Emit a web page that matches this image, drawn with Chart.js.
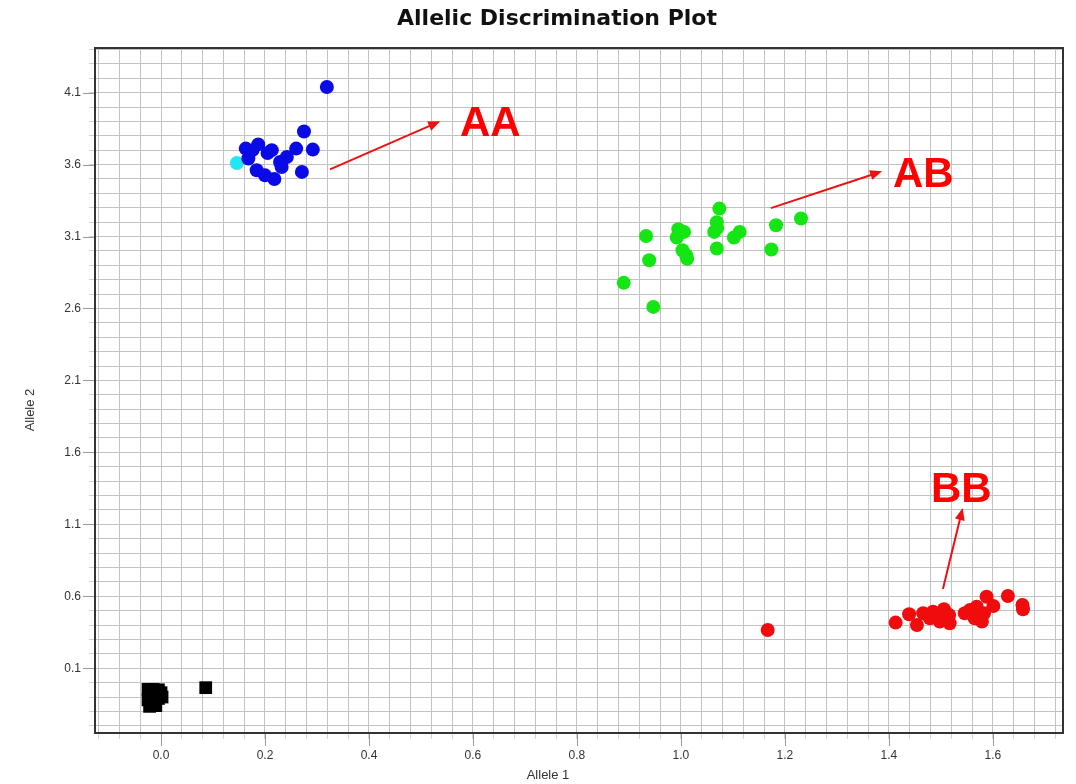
<!DOCTYPE html>
<html>
<head>
<meta charset="utf-8">
<title>Allelic Discrimination Plot</title>
<script src="https://cdn.jsdelivr.net/npm/chart.js@4.4.0/dist/chart.umd.min.js"></script>
<style>
  html, body { margin: 0; padding: 0; background: #fff; }
</style>
</head>
<body>
<canvas id="allelic-plot" width="1076" height="784"></canvas>
<script>
// Allele 1 / Allele 2 signal per well, grouped by genotype call
var aaAllele1 = [0.319, 0.275, 0.292, 0.260, 0.271, 0.163, 0.187, 0.168, 0.213, 0.229, 0.242, 0.232, 0.184, 0.200, 0.218, 0.176, 0.205];
var aaAllele2 = [4.139, 3.830, 3.704, 3.711, 3.549, 3.711, 3.740, 3.642, 3.700, 3.618, 3.653, 3.583, 3.560, 3.525, 3.500, 3.700, 3.680];

var undeterminedAllele1 = [0.146];
var undeterminedAllele2 = [3.611];

var abAllele1 = [0.890, 0.947, 0.939, 0.933, 0.997, 1.006, 0.992, 1.003, 1.012, 1.074, 1.069, 1.064, 1.069, 1.102, 1.113, 1.183, 1.174, 1.231, 0.995, 1.010, 1.070];
var abAllele2 = [2.778, 2.611, 2.935, 3.104, 3.139, 3.132, 3.093, 3.005, 2.945, 3.294, 3.200, 3.132, 3.017, 3.093, 3.132, 3.178, 3.010, 3.225, 3.150, 2.970, 3.160];

var bbAllele1 = [1.413, 1.439, 1.454, 1.466, 1.485, 1.479, 1.498, 1.506, 1.516, 1.517, 1.495, 1.546, 1.556, 1.569, 1.579, 1.565, 1.588, 1.601, 1.629, 1.657, 1.658, 1.583, 1.167];
var bbAllele2 = [0.417, 0.475, 0.401, 0.482, 0.493, 0.447, 0.424, 0.510, 0.470, 0.413, 0.470, 0.482, 0.505, 0.528, 0.424, 0.447, 0.597, 0.533, 0.602, 0.540, 0.510, 0.482, 0.366];

var ntcAllele1 = [-0.025, -0.015, -0.005, 0.000, -0.010, -0.020, -0.025, -0.015, -0.005, 0.002, -0.022, -0.010, 0.086];
var ntcAllele2 = [-0.047, -0.047, -0.050, -0.070, -0.080, -0.090, -0.120, -0.130, -0.110, -0.100, -0.165, -0.160, -0.035];

// grid lines (every step) and which of them carry a label
var xTicks = [];
for (var i = 0; i <= 46; i++) xTicks.push(Math.round((-0.12 + i * 0.04) * 100) / 100);
var yTicks = [];
for (var j = 0; j <= 47; j++) yTicks.push(Math.round((-0.3 + j * 0.1) * 10) / 10);

// genotype callouts
var calloutLabels = ['AA', 'AB', 'BB'];
var calloutTailX = [0.325, 1.173, 1.504];
var calloutTailY = [3.567, 3.297, 0.651];
var calloutHeadX = [0.537, 1.387, 1.542];
var calloutHeadY = [3.901, 3.553, 1.213];
var calloutTextX = [0.575, 1.408, 1.481];
var calloutTextY = [3.877, 3.523, 1.335];

function toPoints(xs, ys) {
    return xs.map(function (x, k) { return { x: x, y: ys[k] }; });
}

function isXLabel(v) { return Math.round(v * 100) % 20 === 0; }
function isYLabel(v) { return (Math.round(v * 10) - 1) % 5 === 0; }

function drawArrow(ctx, x1, y1, x2, y2) {
    var ang = Math.atan2(y2 - y1, x2 - x1);
    var head = 12, half = 5;
    var c = Math.cos(ang), s = Math.sin(ang);
    ctx.beginPath();
    ctx.moveTo(x1, y1);
    ctx.lineTo(x2 - head * 0.7 * c, y2 - head * 0.7 * s);
    ctx.stroke();
    ctx.beginPath();
    ctx.moveTo(x2, y2);
    ctx.lineTo(x2 - head * c + half * s, y2 - head * s - half * c);
    ctx.lineTo(x2 - head * c - half * s, y2 - head * s + half * c);
    ctx.closePath();
    ctx.fill();
}

var plotDecor = {
    id: 'plotDecor',
    afterDraw: function (chart) {
        var ctx = chart.ctx;
        var area = chart.chartArea;
        var xs = chart.scales.x, ys = chart.scales.y;
        ctx.save();

        // longer tick marks under the labelled values
        ctx.strokeStyle = '#9a9a9a';
        ctx.lineWidth = 1;
        xTicks.filter(isXLabel).forEach(function (v) {
            var px = Math.round(xs.getPixelForValue(v)) + 0.5;
            ctx.beginPath();
            ctx.moveTo(px, area.bottom);
            ctx.lineTo(px, area.bottom + 13);
            ctx.stroke();
        });
        yTicks.filter(isYLabel).forEach(function (v) {
            var py = Math.round(ys.getPixelForValue(v)) + 0.5;
            ctx.beginPath();
            ctx.moveTo(area.left - 12, py);
            ctx.lineTo(area.left, py);
            ctx.stroke();
        });

        // plot frame
        ctx.strokeStyle = '#333';
        ctx.lineWidth = 2;
        ctx.strokeRect(area.left, area.top, area.right - area.left, area.bottom - area.top);

        // titles
        ctx.fillStyle = '#111';
        ctx.textAlign = 'center';
        ctx.textBaseline = 'middle';
        ctx.font = 'bold 22px "DejaVu Sans", Tahoma, sans-serif';
        ctx.fillText('Allelic Discrimination Plot', 557, 19);
        ctx.fillStyle = '#333';
        ctx.font = '13px "Liberation Sans", Arial, sans-serif';
        ctx.fillText('Allele 1', 548, 775);
        ctx.save();
        ctx.translate(30, 410);
        ctx.rotate(-Math.PI / 2);
        ctx.fillText('Allele 2', 0, 0);
        ctx.restore();

        // callout arrows and genotype names
        ctx.strokeStyle = '#f01010';
        ctx.fillStyle = '#f01010';
        ctx.lineWidth = 2;
        calloutLabels.forEach(function (label, k) {
            drawArrow(ctx,
                xs.getPixelForValue(calloutTailX[k]), ys.getPixelForValue(calloutTailY[k]),
                xs.getPixelForValue(calloutHeadX[k]), ys.getPixelForValue(calloutHeadY[k]));
        });
        ctx.fillStyle = '#ff0000';
        ctx.textAlign = 'left';
        ctx.textBaseline = 'middle';
        ctx.font = 'bold 42px "Liberation Sans", Arial, sans-serif';
        calloutLabels.forEach(function (label, k) {
            ctx.fillText(label, xs.getPixelForValue(calloutTextX[k]), ys.getPixelForValue(calloutTextY[k]));
        });
        ctx.restore();
    }
};

var tickFont = { family: '"Liberation Sans", Arial, sans-serif', size: 12 };

var ctx = document.getElementById('allelic-plot').getContext('2d');
var allelicChart = new Chart(ctx, {
    type: 'scatter',
    data: {
        datasets: [{
            label: 'AA',
            data: toPoints(aaAllele1, aaAllele2),
            backgroundColor: '#0a0ae6',
            borderWidth: 0,
            pointRadius: 7
        }, {
            label: 'Undetermined',
            data: toPoints(undeterminedAllele1, undeterminedAllele2),
            backgroundColor: '#22e6f2',
            borderWidth: 0,
            pointRadius: 7
        }, {
            label: 'AB',
            data: toPoints(abAllele1, abAllele2),
            backgroundColor: '#14e614',
            borderWidth: 0,
            pointRadius: 7
        }, {
            label: 'BB',
            data: toPoints(bbAllele1, bbAllele2),
            backgroundColor: '#f00c0c',
            borderWidth: 0,
            pointRadius: 7
        }, {
            label: 'NTC',
            data: toPoints(ntcAllele1, ntcAllele2),
            backgroundColor: '#000',
            borderWidth: 0,
            pointStyle: 'rect',
            pointRadius: 9
        }]
    },
    options: {
        responsive: false,
        animation: false,
        devicePixelRatio: 1,
        layout: { padding: { left: 0, right: 13, top: 48, bottom: 0 } },
        plugins: {
            legend: { display: false },
            tooltip: { enabled: false }
        },
        scales: {
            x: {
                type: 'linear',
                min: -0.127,
                max: 1.735,
                afterBuildTicks: function (scale) {
                    scale.ticks = xTicks.map(function (v) { return { value: v }; });
                },
                afterFit: function (scale) { scale.height = 51; },
                ticks: {
                    autoSkip: false,
                    maxRotation: 0,
                    padding: 9,
                    color: '#333',
                    font: tickFont,
                    callback: function (v) { return isXLabel(v) ? v.toFixed(1) : ''; }
                },
                grid: { color: '#c2c2c2', lineWidth: 1, tickLength: 6, tickColor: '#d2d2d2' },
                border: { display: false }
            },
            y: {
                type: 'linear',
                min: -0.35,
                max: 4.41,
                afterBuildTicks: function (scale) {
                    scale.ticks = yTicks.map(function (v) { return { value: v }; });
                },
                afterFit: function (scale) { scale.width = 95; },
                ticks: {
                    autoSkip: false,
                    padding: 8,
                    color: '#333',
                    font: tickFont,
                    callback: function (v) { return isYLabel(v) ? v.toFixed(1) : ''; }
                },
                grid: { color: '#c2c2c2', lineWidth: 1, tickLength: 6, tickColor: '#d2d2d2' },
                border: { display: false }
            }
        }
    },
    plugins: [plotDecor]
});
</script>
</body>
</html>
